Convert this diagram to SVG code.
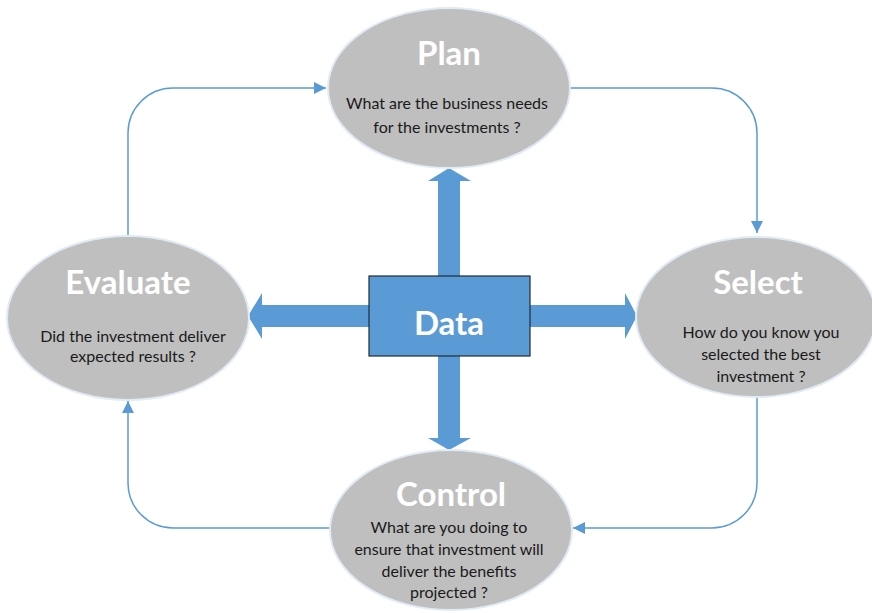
<svg xmlns="http://www.w3.org/2000/svg" width="872" height="613" viewBox="0 0 872 613">
<defs>
<style>
.node ellipse{fill:#bfbfbf;stroke:#e1ebf6;stroke-width:2}
.title{font-family:Lato,"Open Sans",sans-serif;font-weight:bold;font-size:33px;fill:#ffffff;text-anchor:middle}
.sub{font-family:Lato,"Open Sans",sans-serif;font-size:16px;fill:#1a1a1a;text-anchor:middle}
.conn{fill:none;stroke:#5b9bd5;stroke-width:1.5}
.big{fill:#5b9bd5}
</style>
<marker id="ah" viewBox="0 0 10 10" refX="10" refY="5" markerWidth="12" markerHeight="12" markerUnits="userSpaceOnUse" orient="auto">
<path d="M0,0 L10,5 L0,10 z" fill="#5b9bd5"/>
</marker>
</defs>
<rect width="872" height="613" fill="#ffffff"/>
<g id="connectors">
<path class="conn" d="M128,235 V133 A45,45 0 0 1 173,88 H326" marker-end="url(#ah)"/>
<path class="conn" d="M570,88 H712 A45,45 0 0 1 757,133 V233" marker-end="url(#ah)"/>
<path class="conn" d="M757,397 V483 A45,45 0 0 1 712,528 H573" marker-end="url(#ah)"/>
<path class="conn" d="M330,528 H173 A45,45 0 0 1 128,483 V401" marker-end="url(#ah)"/>
<g id="data-arrows">
<polygon class="big" points="438,276 438,181 428,181 449,168 471,181 460,181 460,276"/>
<polygon class="big" points="438,356 438,438 428,438 449,450 471,438 460,438 460,356"/>
<polygon class="big" points="530,305 625,305 625,293 637,316 625,339 625,327 530,327"/>
<polygon class="big" points="369,305 262,305 262,293 248,316 262,339 262,327 369,327"/>
</g>
</g>
<g id="plan" class="node">
<ellipse cx="449" cy="88" rx="121" ry="80"/>
<text class="title" x="449" y="65">Plan</text>
<text class="sub" x="447" y="109">What are the business needs</text>
<text class="sub" x="447" y="133">for the investments ?</text>
</g>
<g id="evaluate" class="node">
<ellipse cx="128" cy="318" rx="121" ry="82"/>
<text class="title" x="128" y="294">Evaluate</text>
<text class="sub" x="133" y="342">Did the investment deliver</text>
<text class="sub" x="133" y="362">expected results ?</text>
</g>
<g id="select" class="node">
<ellipse cx="756" cy="317" rx="120" ry="80"/>
<text class="title" x="758" y="294">Select</text>
<text class="sub" x="761" y="338">How do you know you</text>
<text class="sub" x="761" y="360">selected the best</text>
<text class="sub" x="761" y="382">investment ?</text>
</g>
<g id="control" class="node">
<ellipse cx="451" cy="530" rx="121" ry="80"/>
<text class="title" x="451" y="506">Control</text>
<text class="sub" x="449" y="533">What are you doing to</text>
<text class="sub" x="449" y="555">ensure that investment will</text>
<text class="sub" x="449" y="577">deliver the benefits</text>
<text class="sub" x="449" y="598">projected ?</text>
</g>
<g id="data">
<rect x="369" y="276" width="161" height="80" fill="#5b9bd5" stroke="#1f2a36" stroke-width="1.2"/>
<text class="title" x="449" y="335">Data</text>
</g>
</svg>
